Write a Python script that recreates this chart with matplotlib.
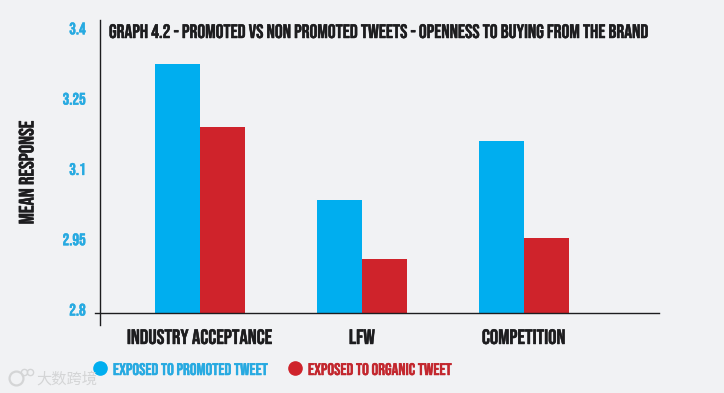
import matplotlib
matplotlib.use("Agg")
import matplotlib.pyplot as plt
import matplotlib.patheffects as pe
from matplotlib import font_manager as fm
from matplotlib.transforms import ScaledTranslation
import numpy as np

categories = ["INDUSTRY ACCEPTANCE", "LFW", "COMPETITION"]
promoted = [3.332, 3.042, 3.166]
organic = [3.196, 2.916, 2.959]
y_ticks = [2.8, 2.95, 3.1, 3.25, 3.4]
y_tick_labels = ["2.8", "2.95", "3.1", "3.25", "3.4"]
baseline = 2.8

BLUE = "#00aeef"
BLUE_TEXT = "#27aae1"
RED = "#cf232b"
RED_TEXT = "#c3272e"
DARK = "#1d1d1f"
BG = "#f1f2f4"
W, H = 724, 393

# condensed display face if it is there, otherwise a smaller plain sans
names = {f.name for f in fm.fontManager.ttflist}
if "Bebas Neue" in names:
    plt.rcParams["font.family"] = ["Bebas Neue", "DejaVu Sans"]
    fs = 1.0
else:
    plt.rcParams["font.family"] = ["Liberation Sans", "DejaVu Sans"]
    plt.rcParams["font.weight"] = "bold"
    fs = 0.66


def heavier(t, color):
    # the original lettering is a touch bolder than the font
    t.set_path_effects([pe.withStroke(linewidth=0.35, foreground=color)])


fig = plt.figure(figsize=(W / 100, H / 100), dpi=100, facecolor=BG)
ax = fig.add_axes([95 / W, 1 - 324.5 / H, (659 - 95) / W, (324.5 - 19.5) / H], facecolor=BG)

x = np.arange(len(categories))
bar_width = 0.278
ax.bar(x - bar_width / 2, np.array(promoted) - baseline, bar_width, color=BLUE, bottom=baseline)
ax.bar(x + bar_width / 2, np.array(organic) - baseline, bar_width, color=RED, bottom=baseline)

ax.set_xlim(-105 / 162, 459 / 162)
ax.set_ylim(2.8 - 11.5 / 468.7, 2.8 + 293.5 / 468.7)

for s in ["top", "right"]:
    ax.spines[s].set_visible(False)
ax.spines["left"].set_position(("data", -100.5 / 162))
ax.spines["bottom"].set_position(("data", baseline))
ax.spines["left"].set_linewidth(1.0)
ax.spines["bottom"].set_linewidth(1.0)
ax.spines["left"].set_color(DARK)
ax.spines["bottom"].set_color(DARK)

ax.set_xticks(x)
ax.set_xticklabels(categories, fontsize=15 * fs, color=DARK)
ax.tick_params(axis="x", length=0, pad=11.5)
ax.set_yticks(y_ticks)
ax.set_yticklabels(y_tick_labels, fontsize=12 * fs, color=BLUE_TEXT)
ax.tick_params(axis="y", length=0, pad=10)
shift = ScaledTranslation(0, 2.5 / 72, fig.dpi_scale_trans)
for lab in ax.get_yticklabels():
    lab.set_transform(lab.get_transform() + shift)
    heavier(lab, BLUE_TEXT)
for lab in ax.get_xticklabels():
    heavier(lab, DARK)

t = fig.text(26 / W, 1 - 172 / H, "MEAN RESPONSE", rotation=90, ha="center", va="center",
             fontsize=15 * fs, color=DARK)
heavier(t, DARK)
t = fig.text(109 / W, 1 - 31 / H, "GRAPH 4.2 - PROMOTED VS NON PROMOTED TWEETS - OPENNESS TO BUYING FROM THE BRAND",
             ha="left", va="center", fontsize=14.05 * fs, color=DARK)
heavier(t, DARK)

# legend built by hand so the markers sit where the original has them
leg = fig.add_axes([0, 0, 1, 1], facecolor="none")
leg.set_axis_off()
leg.set_xlim(0, W)
leg.set_ylim(H, 0)
leg.plot([100], [368], "o", color=BLUE, markersize=9.5)
leg.plot([295], [368], "o", color=RED, markersize=9.5)
t = leg.text(113, 369, "EXPOSED TO PROMOTED TWEET", ha="left", va="center", fontsize=12.1 * fs, color=BLUE_TEXT)
heavier(t, BLUE_TEXT)
t = leg.text(308, 369, "EXPOSED TO ORGANIC TWEET", ha="left", va="center", fontsize=12.1 * fs, color=RED_TEXT)
heavier(t, RED_TEXT)

# watermark
leg.text(36, 379, "大数跨境", ha="left", va="center", fontsize=11, color="#d4d5d6",
         family=["Noto Sans CJK SC", "DejaVu Sans"])
leg.plot([16], [378], "o", mfc="none", mec="#d4d5d6", markersize=10, mew=1.6)
leg.plot([24, 30], [372, 372], "o", mfc="none", mec="#d4d5d6", markersize=4.5, mew=1.0)

fig.savefig("out.png", dpi=100, facecolor=BG)
